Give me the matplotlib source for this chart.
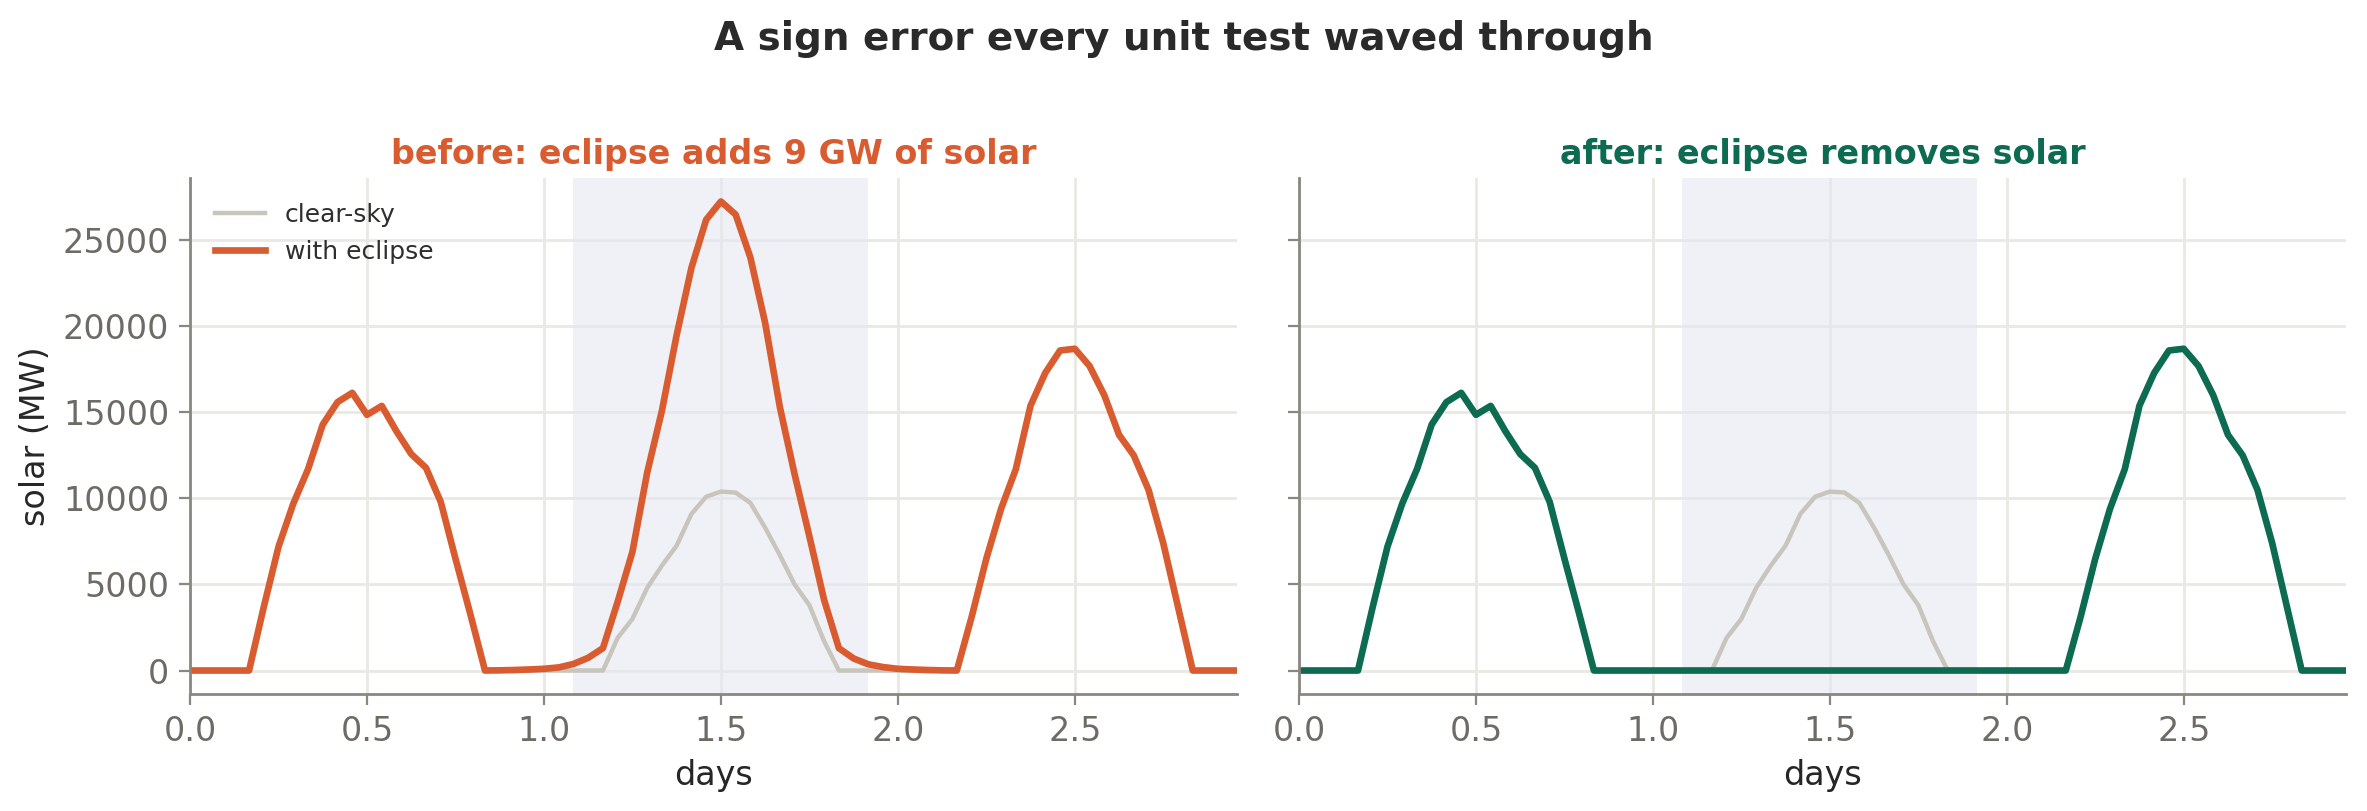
import numpy as np
import matplotlib
matplotlib.use("Agg")
import matplotlib.pyplot as plt

# hourly solar output over three days (MW)
hours = np.arange(72)
clear_sky = [0, 0, 0, 0, 0, 3700, 7200, 9700, 11700, 14300, 15600, 16140,
             14860, 15380, 13900, 12580, 11780, 9800, 6500, 3300, 0, 0, 0, 0,
             0, 0, 0, 0, 0, 1900, 3000, 4800, 6100, 7260, 9100, 10100,
             10400, 10340, 9740, 8300, 6700, 5000, 3800, 1700, 0, 0, 0, 0,
             0, 0, 0, 0, 0, 3100, 6500, 9400, 11700, 15400, 17300, 18600,
             18700, 17700, 16000, 13700, 12500, 10500, 7400, 3700, 0, 0, 0, 0]
eclipse_before = [0, 0, 0, 0, 0, 3700, 7200, 9700, 11700, 14300, 15600, 16140,
                  14860, 15380, 13900, 12580, 11780, 9800, 6500, 3300, 0, 10, 30, 60,
                  100, 180, 380, 740, 1300, 4000, 6900, 11500, 15100, 19500, 23400, 26200,
                  27260, 26500, 24000, 20200, 15300, 11400, 7800, 4100, 1300, 700, 360, 200,
                  100, 60, 30, 10, 0, 3100, 6500, 9400, 11700, 15400, 17300, 18600,
                  18700, 17700, 16000, 13700, 12500, 10500, 7400, 3700, 0, 0, 0, 0]
eclipse_after = [0, 0, 0, 0, 0, 3700, 7200, 9700, 11700, 14300, 15600, 16140,
                 14860, 15380, 13900, 12580, 11780, 9800, 6500, 3300, 0, 0, 0, 0,
                 0, 0, 0, 0, 0, 0, 0, 0, 0, 0, 0, 0,
                 0, 0, 0, 0, 0, 0, 0, 0, 0, 0, 0, 0,
                 0, 0, 0, 0, 0, 3100, 6500, 9400, 11700, 15400, 17300, 18600,
                 18700, 17700, 16000, 13700, 12500, 10500, 7400, 3700, 0, 0, 0, 0]
eclipse_window = (26, 46)  # hours

days = hours / 24

ORANGE = "#d95b30"
GREEN = "#0c6b50"
GRAY = "#c8c5bd"
SPINE = "#8a8780"

fig = plt.figure(figsize=(11.835, 4.055), dpi=200)
ax1 = fig.add_axes([0.0803, 0.1443, 0.4423, 0.6362])
ax2 = fig.add_axes([0.5488, 0.1443, 0.4423, 0.6362], sharey=ax1)

panels = [
    (ax1, eclipse_before, ORANGE, "before: eclipse adds 9 GW of solar"),
    (ax2, eclipse_after, GREEN, "after: eclipse removes solar"),
]

for ax, series, col, title in panels:
    ax.set_axisbelow(True)
    ax.grid(True, color="#e9e9e4", lw=1.0)
    ax.axvspan(eclipse_window[0] / 24, eclipse_window[1] / 24,
               color="#e4e6f0", alpha=0.55, lw=0)
    ax.plot(days, clear_sky, color=GRAY, lw=1.6, label="clear-sky")
    ax.plot(days, series, color=col, lw=2.4, label="with eclipse")
    ax.set_xlim(0, days[-1])
    ax.set_xticks([0, 0.5, 1.0, 1.5, 2.0, 2.5])
    ax.set_xlabel("days", fontsize=12, color="#262626")
    ax.set_title(title, fontsize=12, fontweight="bold", color=col, pad=5)
    for s in ["top", "right"]:
        ax.spines[s].set_visible(False)
    for s in ["left", "bottom"]:
        ax.spines[s].set_color(SPINE)
        ax.spines[s].set_linewidth(1.0)
    ax.tick_params(colors=SPINE, labelcolor="#6e6b66", labelsize=12, length=4)

ax1.set_yticks([0, 5000, 10000, 15000, 20000, 25000])
ax1.set_ylabel("solar (MW)", fontsize=12, color="#262626")
ax2.tick_params(labelleft=False)

leg = ax1.legend(loc="upper left", frameon=False, fontsize=9, handlelength=2.0,
                 borderaxespad=0.6)
for t in leg.get_texts():
    t.set_color("#2e2e2e")

fig.suptitle("A sign error every unit test waved through", fontsize=14,
             fontweight="bold", color="#2a2a2a", y=0.975)

fig.savefig("out.png", dpi=200)
